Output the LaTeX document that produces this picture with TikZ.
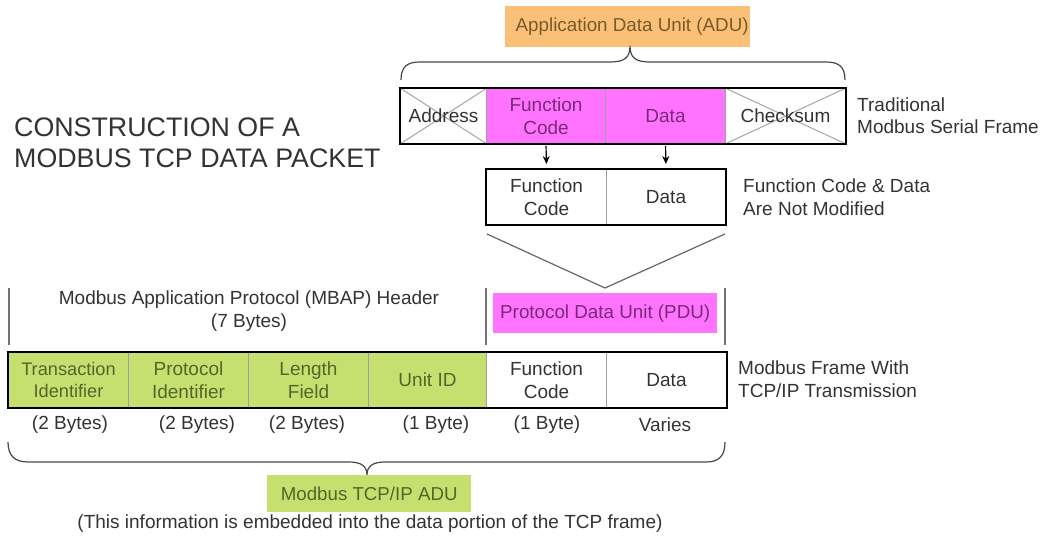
\documentclass[tikz,border=0pt]{standalone}
\usepackage{fontspec}
\setmainfont{Liberation Sans}
\usetikzlibrary{arrows.meta}
\definecolor{mag}{HTML}{FF73FF}
\definecolor{magtext}{HTML}{7A2A7A}
\definecolor{grn}{HTML}{C6E070}
\definecolor{grntext}{HTML}{55652A}
\definecolor{org}{HTML}{FBC078}
\definecolor{orgtext}{HTML}{7A5A2A}
\definecolor{txt}{HTML}{333333}
\newcommand{\cellfont}{\fontsize{19}{22.5}\selectfont}
\newcommand{\pdufont}{\fontsize{18.8}{22}\selectfont}
\newcommand{\titlefont}{\fontsize{26.8}{31.5}\selectfont}
\tikzset{
  cell/.style={draw=gray!75, line width=1pt, minimum height=55, inner sep=0pt,
    anchor=north west, align=center, font=\cellfont, text=txt},
  magcell/.style={cell, fill=mag, text=magtext},
  grncell/.style={cell, fill=grn, text=grntext},
  frame/.style={draw=black, line width=2.2pt},
  lbl/.style={font=\cellfont, text=txt, align=left, anchor=west, inner sep=0pt},
  clbl/.style={font=\cellfont, text=txt, align=center, inner sep=0pt},
  brace/.style={draw=txt!90, line width=1.2pt},
  vline/.style={draw=gray!90!black, line width=1.4pt},
  cross/.style={draw=gray!70, line width=1pt},
  arr/.style={-{Stealth[length=8pt,width=7pt]}, line width=1.2pt, black}
}
\begin{document}
\begin{tikzpicture}[x=1pt,y=-1pt]
\useasboundingbox[fill=white] (0,0) rectangle (1050,538);

% ADU label
\node[fill=org, text=orgtext, font=\pdufont, minimum width=245, minimum height=41, inner sep=0pt, anchor=north west] (adu) at (505,6) {\hspace*{9pt}Application Data Unit (ADU)};
\coordinate (adutip) at (630,46);
\draw[brace] (401,80) .. controls (401,66) and (408,62) .. (420,62) -- (610,62)
  .. controls (624,62) and (630,58) .. (adutip)
  .. controls (630,58) and (636,62) .. (650,62) -- (826,62)
  .. controls (838,62) and (845,66) .. (845,80);

% Title
\node[font=\titlefont, text=txt, align=left, anchor=west, inner sep=0pt] (title) at (14,143) {CONSTRUCTION OF A\\MODBUS TCP DATA PACKET};

% Traditional serial frame
\node[cell, minimum width=86] (addr) at (400,88) {};
\node[magcell, minimum width=119] (tfc) at (486,88) {Function\\Code};
\node[magcell, minimum width=120] (tdata) at (605,88) {Data};
\node[cell, minimum width=120] (chk) at (725,88) {};
\draw[cross] (addr.north west) -- (addr.south east) (addr.south west) -- (addr.north east);
\draw[cross] (chk.north west) -- (chk.south east) (chk.south west) -- (chk.north east);
\node[font=\cellfont, text=txt, inner sep=0pt] (addrt) at (addr.center) {Address};
\node[font=\cellfont, text=txt, inner sep=0pt] (chkt) at (chk.center) {Checksum};
\draw[frame] (addr.north west) rectangle (chk.south east);
\node[lbl] (trad) at (857,115.5) {Traditional\\Modbus Serial Frame};

% Middle frame
\node[cell, minimum width=120, minimum height=55] (mfc) at (486,169) {Function\\Code};
\node[cell, minimum width=119, minimum height=55] (mdata) at (606,169) {Data};
\draw[frame] (mfc.north west) rectangle (mdata.south east);
\node[lbl] (notmod) at (743,197) {Function Code \& Data\\Are Not Modified};

\draw[arr, shorten <=2pt, shorten >=5pt] (tfc.south) -- (mfc.north);
\draw[arr, shorten <=2pt, shorten >=5pt] (tdata.south) -- (mdata.north);

% V lines
\coordinate (v1) at (487,234);
\coordinate (v2) at (605,288);
\coordinate (v3) at (725,234);
\draw[draw=gray!80!black, line width=1.2pt] (v1) -- (v2) -- (v3);

% MBAP header
\node[clbl] (mbap) at (249,311) {Modbus Application Protocol (MBAP) Header\\(7 Bytes)};
\coordinate (l1a) at (9,288); \coordinate (l1b) at (9,345);
\coordinate (l2a) at (486,288); \coordinate (l2b) at (486,345);
\coordinate (l3a) at (725,288); \coordinate (l3b) at (725,345);
\draw[vline] (l1a) -- (l1b);
\draw[vline] (l2a) -- (l2b);
\draw[vline] (l3a) -- (l3b);
\node[fill=mag, text=magtext, font=\pdufont, minimum width=224, minimum height=40, inner sep=0pt, anchor=north west] (pdu) at (493,293) {Protocol Data Unit (PDU)};

% Bottom frame
\node[grncell, minimum width=120, font=\fontsize{18.2}{22.5}\selectfont] (tid) at (8,352) {Transaction\\Identifier};
\node[grncell, minimum width=120] (pid) at (128,352) {Protocol\\Identifier};
\node[grncell, minimum width=120] (len) at (248,352) {Length\\Field};
\node[grncell, minimum width=118] (uid) at (368,352) {Unit ID};
\node[cell, minimum width=120] (bfc) at (486,352) {Function\\Code};
\node[cell, minimum width=120] (bdata) at (606,352) {Data};
\draw[frame] (tid.north west) rectangle (bdata.south east);
\node[lbl] (tcpip) at (738,379) {Modbus Frame With\\TCP/IP Transmission};

% byte labels
\node[clbl] (b1) at (70,425) {(2 Bytes)};
\node[clbl] (b2) at (197,425) {(2 Bytes)};
\node[clbl] (b3) at (307,425) {(2 Bytes)};
\node[clbl] (b4) at (436,425) {(1 Byte)};
\node[clbl] (b5) at (547,425) {(1 Byte)};
\node[clbl] (b6) at (665,425) {Varies};

% bottom brace
\coordinate (btip) at (367,475);
\draw[brace] (8,442) .. controls (8,456) and (15,462) .. (28,462) -- (349,462)
  .. controls (361,462) and (367,466) .. (btip)
  .. controls (367,466) and (373,462) .. (385,462) -- (706,462)
  .. controls (719,462) and (725,456) .. (725,442);

\node[fill=grn, text=grntext, font=\fontsize{18.7}{22}\selectfont, minimum width=204, minimum height=37, inner sep=0pt, anchor=north west] (tcpadu) at (267,475) {Modbus TCP/IP ADU};
\node[clbl] (note) at (370,524) {(This information is embedded into the data portion of the TCP frame)};
\end{tikzpicture}
\end{document}
